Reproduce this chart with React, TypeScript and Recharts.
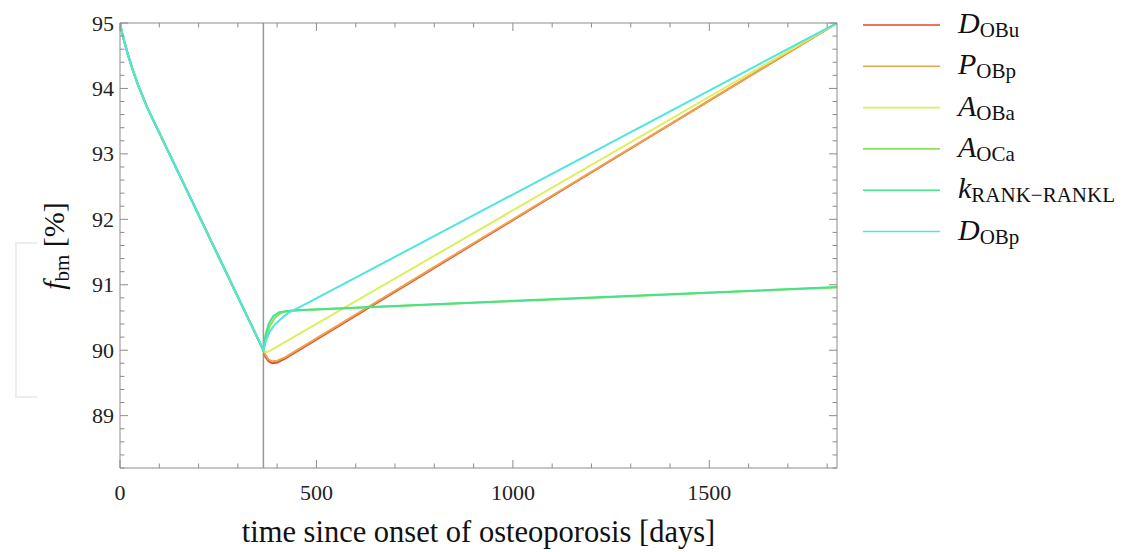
import React from "react";
import { LineChart, Line, XAxis, YAxis, ReferenceLine } from "recharts";

// shared decline phase (days 0..365, all curves coincide)
const declineDays = [0, 5, 10, 20, 30, 46, 70, 365];
const declineValues = [95, 94.86, 94.74, 94.52, 94.33, 94.05, 93.7, 90];

// recovery phase, one pair of arrays per treatment curve
const dobuDays = [370, 378, 388, 400, 420, 1825];
const dobuValues = [89.9, 89.83, 89.8, 89.81, 89.87, 95];

const pobpDays = [370, 378, 388, 400, 420, 1825];
const pobpValues = [89.93, 89.86, 89.83, 89.84, 89.89, 95];

const aobaDays = [370, 378, 390, 1825];
const aobaValues = [89.97, 89.98, 90.02, 95];

const aocaDays = [372, 382, 395, 410, 430, 460, 1825];
const aocaValues = [90.2, 90.38, 90.5, 90.57, 90.6, 90.61, 90.96];

const krankDays = [370, 378, 390, 405, 425, 460, 1825];
const krankValues = [90.22, 90.4, 90.52, 90.58, 90.6, 90.615, 90.965];

const dobpDays = [372, 380, 392, 408, 428, 455, 490, 1825];
const dobpValues = [90.15, 90.27, 90.38, 90.47, 90.57, 90.65, 90.76, 95];

const xTicks = [0, 100, 200, 300, 400, 500, 600, 700, 800, 900, 1000, 1100, 1200, 1300, 1400, 1500, 1600, 1700, 1800];
const yTicks = [
  88.2, 88.4, 88.6, 88.8, 89, 89.2, 89.4, 89.6, 89.8, 90, 90.2, 90.4, 90.6, 90.8, 91,
  91.2, 91.4, 91.6, 91.8, 92, 92.2, 92.4, 92.6, 92.8, 93, 93.2, 93.4, 93.6, 93.8, 94,
  94.2, 94.4, 94.6, 94.8, 95,
];

const series = [
  { key: "dobu", main: "D", sub: "OBu", color: "#e8452c", days: dobuDays, values: dobuValues },
  { key: "pobp", main: "P", sub: "OBp", color: "#eda24c", days: pobpDays, values: pobpValues },
  { key: "aoba", main: "A", sub: "OBa", color: "#dcf05a", days: aobaDays, values: aobaValues },
  { key: "aoca", main: "A", sub: "OCa", color: "#8ee05a", days: aocaDays, values: aocaValues },
  { key: "krank", main: "k", sub: "RANK\u2212RANKL", color: "#48e28a", days: krankDays, values: krankValues },
  { key: "dobp", main: "D", sub: "OBp", color: "#4ee6e0", days: dobpDays, values: dobpValues },
];

function buildRows(days: number[], values: number[]) {
  const rows = declineDays.map((t, i) => ({ t, v: declineValues[i] }));
  days.forEach((t, i) => rows.push({ t, v: values[i] }));
  return rows;
}

const FONT = '"Liberation Serif", serif';
const serif = { fontFamily: FONT };
const FRAME = "#8c8c8c";
const X_MARGIN = 17;
const Y_MARGIN = 6;

const isMajorX = (v: number) => v % 500 === 0;
const isMajorY = (v: number) => Math.abs(v - Math.round(v)) < 1e-6;

function makeTick(side: "bottom" | "top" | "left" | "right", margin: number, labels: boolean) {
  return (props: any) => {
    const { x, y, payload } = props;
    const v = payload.value as number;
    const major = side === "bottom" || side === "top" ? isMajorX(v) : isMajorY(v);
    const len = major ? 8 : 4.5;
    let line = null;
    if (side === "bottom") line = <line x1={x} x2={x} y1={y - margin} y2={y - margin - len} stroke={FRAME} />;
    if (side === "top") line = <line x1={x} x2={x} y1={y + margin} y2={y + margin + len} stroke={FRAME} />;
    if (side === "left") line = <line x1={x + margin} x2={x + margin + len} y1={y} y2={y} stroke={FRAME} />;
    if (side === "right") line = <line x1={x - margin} x2={x - margin - len} y1={y} y2={y} stroke={FRAME} />;
    let text = null;
    if (labels && major) {
      if (side === "bottom") {
        text = (
          <text x={x} y={y + 15} textAnchor="middle" fontSize={22} style={serif} fill="#222">
            {v}
          </text>
        );
      } else {
        text = (
          <text x={x} y={y + 7.5} textAnchor="end" fontSize={22} style={serif} fill="#222">
            {Math.round(v)}
          </text>
        );
      }
    }
    return (
      <g>
        {line}
        {text}
      </g>
    );
  };
}

function Legend() {
  return (
    <svg width={270} height={260} style={{ position: "absolute", left: 855, top: 0 }}>
      {series.map((s, i) => {
        const cy = 25 + i * 41.3;
        return (
          <g key={s.key}>
            <line x1={8} x2={85} y1={cy} y2={cy} stroke={s.color} strokeWidth={1.6} />
            <text x={103} y={cy + 8} style={serif} fill="#111">
              <tspan fontSize={30} fontStyle="italic">
                {s.main}
              </tspan>
              <tspan fontSize={21} dy={4}>
                {s.sub}
              </tspan>
            </text>
          </g>
        );
      })}
    </svg>
  );
}

export default function App() {
  return (
    <div
      style={{
        position: "absolute",
        left: 0,
        top: 0,
        width: 1125,
        height: 552,
        background: "#fff",
        fontFamily: FONT,
      }}
    >
      <div
        style={{
          position: "absolute",
          left: 15,
          top: 242,
          width: 22,
          height: 156,
          border: "2px solid #eceeee",
          borderRight: "none",
          boxSizing: "border-box",
        }}
      />
      <LineChart width={1125} height={552} margin={{ top: 13, right: 278, bottom: 44, left: 60 }} style={serif}>
        <XAxis
          xAxisId="b"
          type="number"
          dataKey="t"
          domain={[0, 1825]}
          allowDataOverflow
          ticks={xTicks}
          interval={0}
          height={40}
          stroke={FRAME}
          tickSize={0}
          tickMargin={X_MARGIN}
          tickLine={false}
          tick={makeTick("bottom", X_MARGIN, true)}
          label={{
            content: (p: any) => {
              const vb = p.viewBox;
              return (
                <text
                  x={vb.x + vb.width / 2}
                  y={vb.y + 74}
                  textAnchor="middle"
                  fontSize={30.5}
                  style={serif}
                  fill="#111"
                >
                  time since onset of osteoporosis [days]
                </text>
              );
            },
          }}
        />
        <XAxis
          xAxisId="t"
          orientation="top"
          type="number"
          dataKey="t"
          domain={[0, 1825]}
          allowDataOverflow
          ticks={xTicks}
          interval={0}
          height={10}
          stroke={FRAME}
          tickSize={0}
          tickMargin={0}
          tickLine={false}
          tick={makeTick("top", 0, false)}
        />
        <YAxis
          yAxisId="l"
          type="number"
          domain={[88.2, 95]}
          allowDataOverflow
          ticks={yTicks}
          interval={0}
          width={60}
          stroke={FRAME}
          tickSize={0}
          tickMargin={Y_MARGIN}
          tickLine={false}
          tick={makeTick("left", Y_MARGIN, true)}
          label={{
            content: () => {
              const cx = 64;
              const cy = 246;
              return (
                <text
                  x={cx}
                  y={cy}
                  transform={`rotate(-90, ${cx}, ${cy})`}
                  textAnchor="middle"
                  style={serif}
                  fill="#111"
                >
                  <tspan fontSize={30} fontStyle="italic">
                    f
                  </tspan>
                  <tspan fontSize={21} dy={5}>
                    bm
                  </tspan>
                  <tspan fontSize={30} dy={-5}>
                    {" [%]"}
                  </tspan>
                </text>
              );
            },
          }}
        />
        <YAxis
          yAxisId="r"
          orientation="right"
          type="number"
          domain={[88.2, 95]}
          allowDataOverflow
          ticks={yTicks}
          interval={0}
          width={10}
          stroke={FRAME}
          tickSize={0}
          tickMargin={0}
          tickLine={false}
          tick={makeTick("right", 0, false)}
        />
        <ReferenceLine xAxisId="b" yAxisId="l" x={365} stroke="#999" strokeWidth={1.5} />
        {/* invisible helper so the mirrored frame axes have a series bound */}
        <Line
          xAxisId="t"
          yAxisId="r"
          data={buildRows([], [])}
          dataKey="v"
          stroke="none"
          dot={false}
          activeDot={false}
          isAnimationActive={false}
        />
        {series.map((s) => (
          <Line
            key={s.key}
            xAxisId="b"
            yAxisId="l"
            data={buildRows(s.days, s.values)}
            dataKey="v"
            type="linear"
            stroke={s.color}
            strokeWidth={2}
            dot={false}
            activeDot={false}
            isAnimationActive={false}
          />
        ))}
      </LineChart>
      <Legend />
    </div>
  );
}
